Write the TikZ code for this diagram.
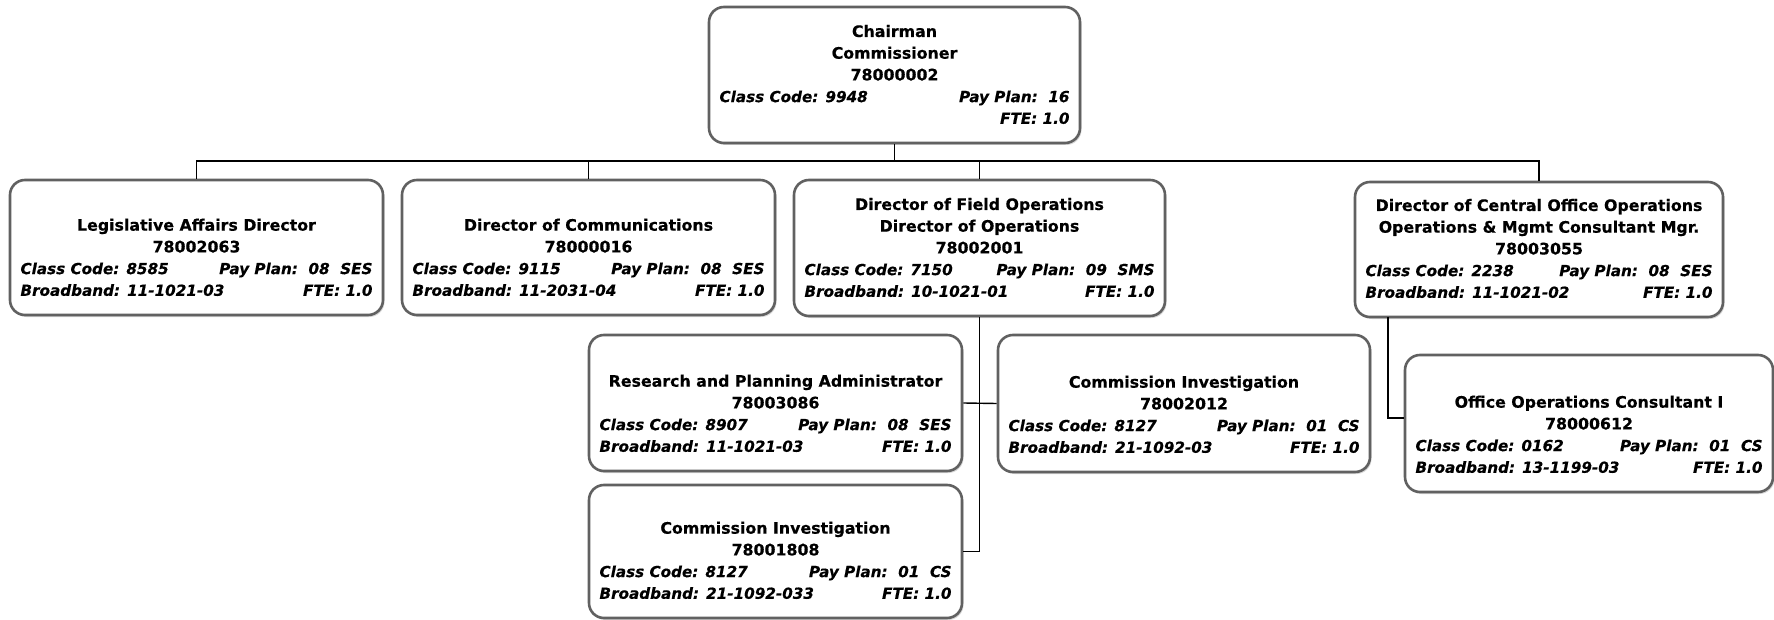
\documentclass[tikz,border=0pt]{standalone}
\usepackage{fontspec}
\setmainfont{DejaVu Sans}[BoldFeatures={FakeBold=0.4},BoldItalicFeatures={FakeBold=0.4}]
\usetikzlibrary{shadows}

% fonts for the position cards
\newcommand{\titlefont}{\fontsize{15.8}{21.7}\selectfont\bfseries}
\newcommand{\infofont}{\fontsize{15.2}{21.7}\selectfont\bfseries\itshape}

% card body: width, height, centred title lines, info lines (bottom aligned)
\newcommand{\card}[4]{%
  \parbox[c][#2pt][b]{#1pt}{\centering\titlefont #3\par
    \raggedright\infofont #4\par\vspace{19pt}}}

\tikzset{
  x=1pt, y=-1pt,
  position/.style={rectangle, rounded corners=15pt, draw=black!62,
    line width=2.6pt, fill=white, inner xsep=10.5pt, inner ysep=0pt,
    drop shadow={shadow xshift=1.5pt, shadow yshift=-2pt, opacity=0.3}},
  link/.style={draw=black, line width=1.4pt}
}

\begin{document}
\begin{tikzpicture}
\useasboundingbox (0,0) rectangle (1774,620);

% executive level
\node[position] (chair) at (894.5,75) {\card{350}{136}
  {Chairman\\Commissioner\\78000002}
  {Class Code: 9948\hfill Pay Plan:~~16\par\mbox{}\hfill FTE: 1.0}};

% direct reports
\node[position] (leg) at (196.5,247.5) {\card{352}{135}
  {Legislative Affairs Director\\78002063}
  {Class Code: 8585\hfill Pay Plan:~~08~~SES\par Broadband: 11-1021-03\hfill FTE: 1.0}};

\node[position] (comm) at (588.5,247.5) {\card{352}{135}
  {Director of Communications\\78000016}
  {Class Code: 9115\hfill Pay Plan:~~08~~SES\par Broadband: 11-2031-04\hfill FTE: 1.0}};

\node[position] (field) at (979.5,248) {\card{350}{136}
  {Director of Field Operations\\Director of Operations\\78002001}
  {Class Code: 7150\hfill Pay Plan:~~09~~SMS\par Broadband: 10-1021-01\hfill FTE: 1.0}};

\node[position] (central) at (1539,249.5) {\card{347}{135}
  {Director of Central Office Operations\\Operations \& Mgmt Consultant Mgr.\\78003055}
  {Class Code: 2238\hfill Pay Plan:~~08~~SES\par Broadband: 11-1021-02\hfill FTE: 1.0}};

% field operations staff
\node[position] (research) at (775.5,403) {\card{352}{136}
  {Research and Planning Administrator\\78003086}
  {Class Code: 8907\hfill Pay Plan:~~08~~SES\par Broadband: 11-1021-03\hfill FTE: 1.0}};

\node[position] (invA) at (1184,403.5) {\card{351}{137}
  {Commission Investigation\\78002012}
  {Class Code: 8127\hfill Pay Plan:~~01~~CS\par Broadband: 21-1092-03\hfill FTE: 1.0}};

\node[position] (invB) at (775.5,551.5) {\card{352}{133}
  {Commission Investigation\\78001808}
  {Class Code: 8127\hfill Pay Plan:~~01~~CS\par Broadband: 21-1092-033\hfill FTE: 1.0}};

% central office staff
\node[position] (office) at (1589,423.5) {\card{347}{137}
  {Office Operations Consultant I\\78000612}
  {Class Code: 0162\hfill Pay Plan:~~01~~CS\par Broadband: 13-1199-03\hfill FTE: 1.0}};

% connectors
\coordinate (bus) at (894.5,161);
\coordinate (cdrop) at (1388,317);
\coordinate (officein) at ([yshift=5.5pt]office.west);

\draw[link] (chair.south) -- (bus);
\draw[link] (leg.north) |- (bus);
\draw[link] (comm.north) |- (bus);
\draw[link] (field.north) |- (bus);
\draw[link] (central.north) |- (bus);
\draw[link] (field.south) |- (invB.east);
\draw[link] (research.east) -- (invA.west);
\draw[link] (cdrop) |- (officein);
\end{tikzpicture}
\end{document}
